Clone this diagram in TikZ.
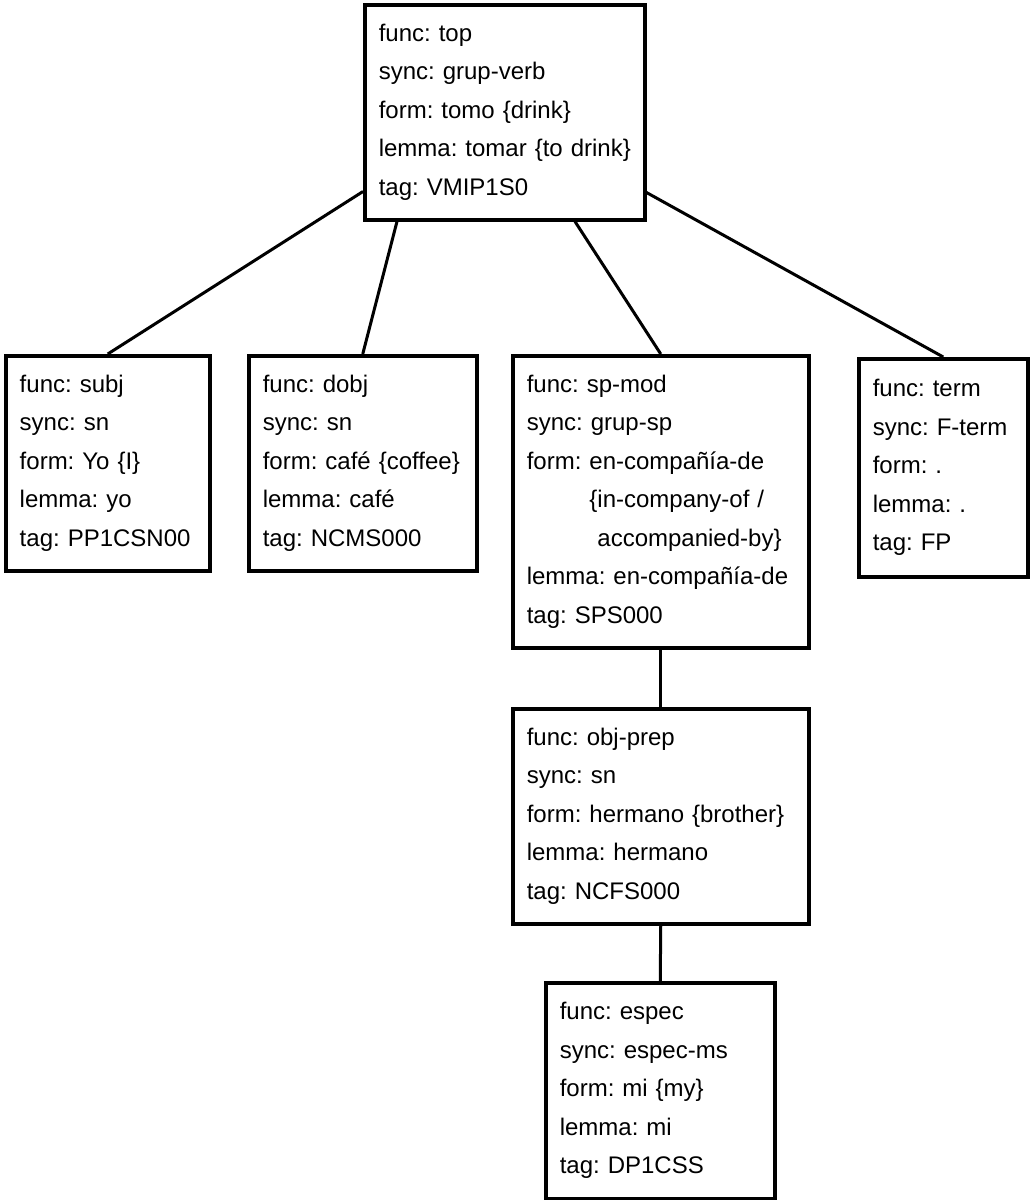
\documentclass[tikz,border=0pt]{standalone}
\usepackage{fontspec}
\setmainfont{Liberation Sans}
\newcommand\boxfont{\fontsize{24}{38.5}\selectfont\frenchspacing\hyphenpenalty=10000\exhyphenpenalty=10000}
\tikzset{
  fbox/.style={draw, line width=3.5pt, inner xsep=14pt, inner ysep=0pt,
    align=left, font=\boxfont, anchor=north west},
  link/.style={line width=3pt}
}
\begin{document}
\begin{tikzpicture}[x=1pt,y=-1pt]
\useasboundingbox (0,0) rectangle (1029,1200);
\node[fbox, text width=252pt, minimum height=215pt] (top) at (363,3)
  {func: top\\sync: grup-verb\\form: tomo \{drink\}\\\mbox{lemma: tomar \{to drink\}}\\tag: VMIP1S0};
\node[fbox, text width=176pt, minimum height=215pt] (subj) at (4,354)
  {func: subj\\sync: sn\\form: Yo \{I\}\\lemma: yo\\tag: PP1CSN00};
\node[fbox, text width=200pt, minimum height=215pt] (dobj) at (247,354)
  {func: dobj\\sync: sn\\\mbox{form: café \{coffee\}}\\lemma: café\\tag: NCMS000};
\node[fbox, text width=268pt, minimum height=292pt] (spmod) at (511,354)
  {func: sp-mod\\sync: grup-sp\\form: en-compañía-de\\\phantom{form: }\{in-company-of /\\\phantom{form: \{}accompanied-by\}\\\mbox{lemma: en-compañía-de}\\tag: SPS000};
\node[fbox, text width=141pt, minimum height=218pt] (term) at (857,357)
  {func: term\\sync: F-term\\form: .\\lemma: .\\tag: FP};
\node[fbox, text width=268pt, minimum height=215pt] (objprep) at (511,707)
  {func: obj-prep\\sync: sn\\\mbox{form: hermano \{brother\}}\\lemma: hermano\\tag: NCFS000};
\node[fbox, text width=201pt, minimum height=216pt] (espec) at (544,981)
  {func: espec\\sync: espec-ms\\form: mi \{my\}\\lemma: mi\\tag: DP1CSS};
\coordinate (t1) at ([yshift=30pt]top.south west);
\coordinate (t2) at ([xshift=34pt]top.south west);
\coordinate (t3) at ([xshift=212pt]top.south west);
\coordinate (t4) at ([yshift=29pt]top.south east);
\draw[link] (t1) -- (subj.north);
\draw[link] (t2) -- (dobj.north);
\draw[link] (t3) -- (spmod.north);
\draw[link] (t4) -- (term.north);
\draw[link] (spmod.south) -- (objprep.north);
\draw[link] (objprep.south) -- (espec.north);
\end{tikzpicture}
\end{document}
